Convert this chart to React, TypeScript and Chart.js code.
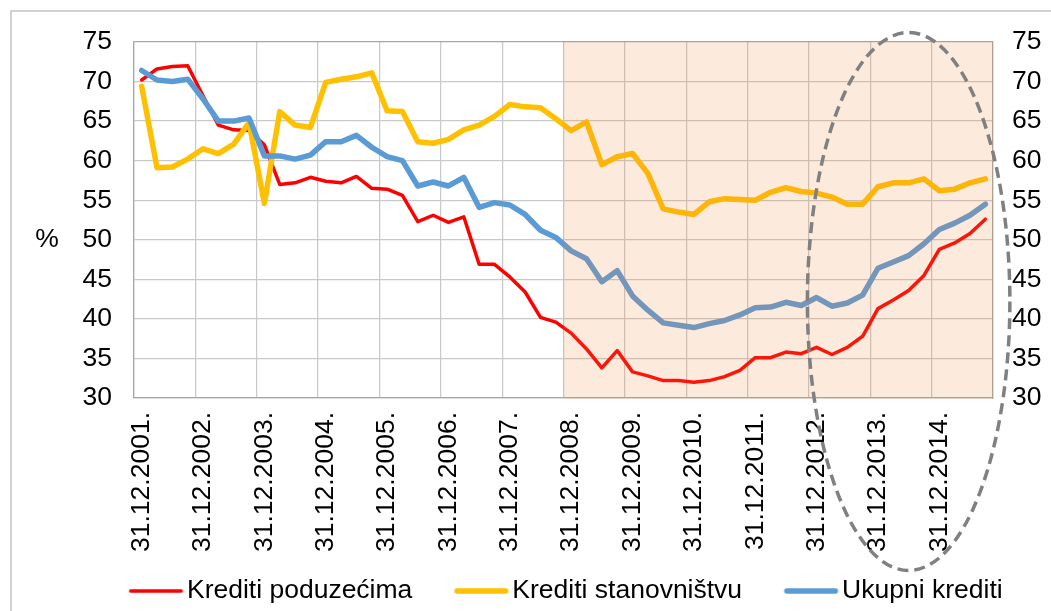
import React, { useEffect, useRef } from 'react';
import { Chart, registerables } from 'chart.js';

Chart.register(...registerables);

// Quarter-end dates (category axis)
const CATEGORIES: string[] = [
  '31.12.2001.',
  '31.3.2002.', '30.6.2002.', '30.9.2002.', '31.12.2002.',
  '31.3.2003.', '30.6.2003.', '30.9.2003.', '31.12.2003.',
  '31.3.2004.', '30.6.2004.', '30.9.2004.', '31.12.2004.',
  '31.3.2005.', '30.6.2005.', '30.9.2005.', '31.12.2005.',
  '31.3.2006.', '30.6.2006.', '30.9.2006.', '31.12.2006.',
  '31.3.2007.', '30.6.2007.', '30.9.2007.', '31.12.2007.',
  '31.3.2008.', '30.6.2008.', '30.9.2008.', '31.12.2008.',
  '31.3.2009.', '30.6.2009.', '30.9.2009.', '31.12.2009.',
  '31.3.2010.', '30.6.2010.', '30.9.2010.', '31.12.2010.',
  '31.3.2011.', '30.6.2011.', '30.9.2011.', '31.12.2011.',
  '31.3.2012.', '30.6.2012.', '30.9.2012.', '31.12.2012.',
  '31.3.2013.', '30.6.2013.', '30.9.2013.', '31.12.2013.',
  '31.3.2014.', '30.6.2014.', '30.9.2014.', '31.12.2014.',
  '31.3.2015.', '30.6.2015.', '30.9.2015.',
];

const SERIES_NAMES = ['Krediti poduzećima', 'Krediti stanovništvu', 'Ukupni krediti'];

const KREDITI_PODUZECIMA: number[] = [
  70.2,
  71.6, 71.9, 72.0, 68.2,
  64.5, 63.9, 63.8, 62.0,
  57.0, 57.2, 57.9, 57.4,
  57.2, 58.0, 56.5, 56.4,
  55.6, 52.3, 53.1, 52.2,
  52.9, 46.9, 46.9, 45.3,
  43.4, 40.2, 39.6, 38.2,
  36.2, 33.8, 36.0, 33.3,
  32.8, 32.2, 32.2, 32.0,
  32.2, 32.7, 33.5, 35.1,
  35.1, 35.8, 35.6, 36.4,
  35.5, 36.4, 37.8, 41.3,
  42.4, 43.6, 45.5, 48.8,
  49.6, 50.8, 52.6,
];

const KREDITI_STANOVNISTVU: number[] = [
  69.4,
  59.1, 59.2, 60.2, 61.5,
  60.9, 62.1, 64.8, 54.6,
  66.2, 64.5, 64.2, 69.9,
  70.3, 70.6, 71.1, 66.3,
  66.2, 62.4, 62.2, 62.7,
  63.9, 64.5, 65.6, 67.1,
  66.8, 66.7, 65.3, 63.8,
  64.9, 59.5, 60.5, 60.9,
  58.4, 53.9, 53.5, 53.2,
  54.8, 55.2, 55.1, 55.0,
  56.0, 56.6, 56.1, 55.9,
  55.4, 54.5, 54.5, 56.7,
  57.2, 57.2, 57.7, 56.2,
  56.4, 57.2, 57.7,
];

const UKUPNI_KREDITI: number[] = [
  71.4,
  70.2, 70.0, 70.3, 67.8,
  65.0, 65.0, 65.4, 60.6,
  60.6, 60.2, 60.7, 62.4,
  62.4, 63.2, 61.7, 60.5,
  60.0, 56.8, 57.3, 56.8,
  57.9, 54.1, 54.7, 54.4,
  53.2, 51.2, 50.3, 48.6,
  47.6, 44.7, 46.1, 42.9,
  41.1, 39.5, 39.2, 38.9,
  39.4, 39.8, 40.5, 41.4,
  41.5, 42.1, 41.7, 42.7,
  41.6, 42.0, 43.0, 46.4,
  47.2, 48.0, 49.5, 51.3,
  52.1, 53.1, 54.5,
];

const Y_MIN = 30;
const Y_MAX = 75;
const Y_STEP = 5;
const LABEL_EVERY = 4;
const Y_TITLE = '%';
const SHADE_FROM = '31.12.2008.';
// Dashed highlight ellipse, in data units (category index / value)
const HIGHLIGHT = { centerIndex: 50, centerValue: 42.2, halfWidth: 6.6, halfHeight: 34 };

const FONT_FAMILY = "'Liberation Sans', Arial, Helvetica, sans-serif";
const FONT_SIZE = 26.5;
const GRID = '#C9C9C9';
const BORDER = '#A6A6A6';
const COLORS = ['#FF0000', '#FFC000', '#5B9BD5'];
const WIDTHS = [3.5, 5.5, 5.5];

// legend geometry
const LEGEND_PAD = 21;
const LEGEND_SLOT = 65.75;
const LEGEND_LINE_LEN = 54;
const LEGEND_LINE_GAP = 4;

function makeLegendSwatch(color: string, width: number): HTMLCanvasElement {
  const textStart = LEGEND_SLOT + FONT_SIZE / 2;
  const lineEnd = textStart - LEGEND_LINE_GAP;
  const lineStart = lineEnd - LEGEND_LINE_LEN;
  const center = LEGEND_SLOT / 2;
  const half = Math.max(Math.abs(lineEnd - center), Math.abs(lineStart - center)) + 2;
  const c = document.createElement('canvas');
  c.width = Math.ceil(half * 2);
  c.height = 12;
  const g = c.getContext('2d')!;
  const origin = center - c.width / 2;
  g.strokeStyle = color;
  g.lineWidth = width;
  g.lineCap = 'round';
  g.beginPath();
  g.moveTo(lineStart - origin + width / 2, c.height / 2);
  g.lineTo(lineEnd - origin - width / 2, c.height / 2);
  g.stroke();
  return c;
}

const decorPlugin = {
  id: 'decor',
  afterDatasetsDraw(chart: any) {
    const { ctx, chartArea, scales } = chart;
    const xs = scales.x;
    const idx = CATEGORIES.indexOf(SHADE_FROM);
    const x0 = xs.getPixelForValue(idx - 0.5);
    ctx.save();
    ctx.fillStyle = 'rgba(237,125,49,0.165)';
    ctx.fillRect(x0, chartArea.top - 0.7, chartArea.right + 0.7 - x0, chartArea.bottom - chartArea.top + 1.4);
    ctx.restore();
  },
  afterDraw(chart: any) {
    const { ctx, scales } = chart;
    const xs = scales.x;
    const ys = scales.y;
    ctx.save();
    // outer chart border
    ctx.strokeStyle = '#C4C4C4';
    ctx.lineWidth = 1.5;
    ctx.strokeRect(11, 11, 2000, 2000);
    // y axis title (upright)
    ctx.fillStyle = '#000';
    ctx.font = `${FONT_SIZE}px ${FONT_FAMILY}`;
    ctx.textAlign = 'center';
    ctx.textBaseline = 'middle';
    ctx.fillText(Y_TITLE, 47, ys.getPixelForValue(50));
    // dashed ellipse
    const cx = xs.getPixelForValue(HIGHLIGHT.centerIndex);
    const cy = ys.getPixelForValue(HIGHLIGHT.centerValue);
    const rx = Math.abs(xs.getPixelForValue(HIGHLIGHT.centerIndex + HIGHLIGHT.halfWidth) - cx);
    const ry = Math.abs(ys.getPixelForValue(HIGHLIGHT.centerValue + HIGHLIGHT.halfHeight) - cy);
    ctx.strokeStyle = '#808080';
    ctx.lineWidth = 3.5;
    ctx.setLineDash([11, 6]);
    ctx.beginPath();
    ctx.ellipse(cx, cy, rx, ry, 0, 0, Math.PI * 2);
    ctx.stroke();
    ctx.restore();
  },
};

export default function App() {
  const canvasRef = useRef<HTMLCanvasElement | null>(null);

  useEffect(() => {
    const canvas = canvasRef.current;
    if (!canvas) return;
    const seriesData = [KREDITI_PODUZECIMA, KREDITI_STANOVNISTVU, UKUPNI_KREDITI];
    const font = { size: FONT_SIZE, family: FONT_FAMILY };
    const chart = new Chart(canvas, {
      type: 'line',
      data: {
        labels: CATEGORIES,
        datasets: seriesData.map((d, i) => ({
          label: SERIES_NAMES[i],
          data: d,
          borderColor: COLORS[i],
          backgroundColor: COLORS[i],
          borderWidth: WIDTHS[i],
          pointRadius: 0,
          pointHoverRadius: 0,
          pointStyle: makeLegendSwatch(COLORS[i], WIDTHS[i]),
          tension: 0,
          fill: false,
          borderJoinStyle: 'round',
          borderCapStyle: 'round',
          order: 3 - i,
          yAxisID: 'y',
        })),
      },
      plugins: [decorPlugin],
      options: {
        responsive: false,
        animation: false,
        devicePixelRatio: 1,
        events: [],
        layout: { padding: { top: 42, left: 59.6, right: 0, bottom: 0 } },
        plugins: {
          tooltip: { enabled: false },
          title: { display: false },
          legend: {
            position: 'bottom',
            maxHeight: 54.25,
            labels: {
              usePointStyle: true,
              pointStyleWidth: LEGEND_SLOT,
              padding: LEGEND_PAD,
              color: '#000',
              font,
              sort: (a: any, b: any) => a.datasetIndex - b.datasetIndex,
            },
          },
        },
        scales: {
          x: {
            type: 'category',
            offset: true,
            grid: {
              offset: true,
              drawTicks: false,
              lineWidth: 1.25,
              color: (c: any) => (typeof c.index === 'number' && c.index % LABEL_EVERY === 0 ? GRID : 'rgba(0,0,0,0)'),
            },
            border: { display: true, color: BORDER, width: 1.25 },
            ticks: {
              autoSkip: false,
              maxRotation: 90,
              minRotation: 90,
              padding: 14,
              color: '#000',
              font,
              callback: (_v: any, i: number) => (i % LABEL_EVERY === 0 ? CATEGORIES[i] : ''),
            },
            afterFit: (s: any) => { s.height = 158.75; },
          },
          y: {
            type: 'linear',
            position: 'left',
            min: Y_MIN,
            max: Y_MAX,
            grid: {
              drawTicks: false,
              lineWidth: 1.25,
              color: (c: any) => (c.tick && c.tick.value === Y_MAX ? BORDER : GRID),
            },
            border: { display: true, color: BORDER, width: 1.25 },
            ticks: { stepSize: Y_STEP, padding: 22, color: '#000', font },
            afterFit: (s: any) => { s.width = 74.4; },
          },
          y1: {
            type: 'linear',
            position: 'right',
            min: Y_MIN,
            max: Y_MAX,
            grid: { display: false, drawTicks: false },
            border: { display: true, color: BORDER, width: 1.25 },
            ticks: { stepSize: Y_STEP, padding: 19, color: '#000', font },
            afterFit: (s: any) => { s.width = 58; },
          },
        },
      },
    } as any);
    return () => chart.destroy();
  }, []);

  return (
    <div style={{ position: 'absolute', left: 0, top: 0, width: 1051, height: 611, background: '#fff' }}>
      <canvas ref={canvasRef} width={1051} height={611} style={{ display: 'block' }} />
    </div>
  );
}
